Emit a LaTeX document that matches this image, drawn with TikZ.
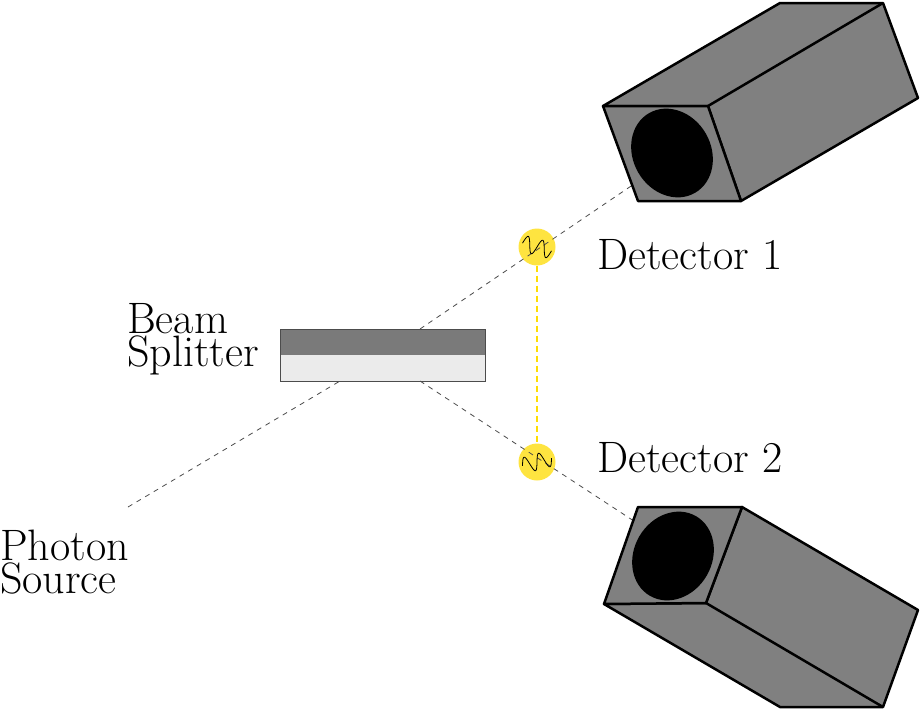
\documentclass[tikz,border=0pt]{standalone}
\begin{document}
\begin{tikzpicture}[x=1pt,y=-1pt,
  box/.style={draw=black,line width=2.5pt,fill=black!50,line join=round},
  beam/.style={dash pattern=on 5pt off 5pt,black!70,line width=0.8pt},
  photon/.style={circle,fill=yellow!80!orange!75!white,minimum size=37pt,inner sep=0},
  lbl/.style={font=\fontsize{44}{33}\selectfont,inner sep=0,align=left}]
\useasboundingbox (0,0) rectangle (921,710);
% beam splitter
\fill[black!52] (280,329) rectangle (485,355);
\fill[black!8] (280,355) rectangle (485,381);
\draw[line width=0.8pt,black!70] (280,329) rectangle (485,381);
\node[photon] (p1) at (537,247) {};
\node[photon] (p2) at (537,462) {};
\coordinate (src) at (128,507);
\coordinate (bs1) at (340,381);
\coordinate (bs2) at (420,329);
\coordinate (bs3) at (420,381);
\coordinate (d1) at (640,180);
\coordinate (d2) at (640,525);
\draw[beam] (src) -- (bs1);
\draw[beam] (bs2) -- (d1);
\draw[beam] (bs3) -- (d2);
\draw[dash pattern=on 6pt off 4pt,yellow!80!orange,line width=1.2pt] (p1) -- (p2);
% waves
\draw[line width=0.8pt,rotate around={-15:(p1)}] plot[domain=-15:15,samples=80,smooth] ({537+\x},{247-8*sin(\x*24)});
\draw[line width=0.8pt,rotate around={15:(p2)}] plot[domain=-15:15,samples=80,smooth] ({537+\x},{462-8*sin(\x*24)});
% detector 1
\draw[box] (603,106) -- (780,3) -- (883,3) -- (918,98) -- (741,201) -- (708,106) -- cycle;
\draw[box] (708,106) -- (883,3);
\draw[box] (603,106) -- (708,106) -- (741,201) -- (638,201) -- cycle;
\fill[black,rotate around={30:(672,153)}] (672,153) ellipse (39pt and 46pt);
% detector 2
\draw[box] (604,604) -- (780,707) -- (883,707) -- (918,610) -- (742,507) -- (706,603) -- cycle;
\draw[box] (706,603) -- (883,707);
\draw[box] (638,507) -- (742,507) -- (706,603) -- (604,604) -- cycle;
\fill[black,rotate around={-30:(673,556)}] (673,556) ellipse (39pt and 46pt);
% labels
\node[lbl,anchor=west] (lbs) at (127,339) {Beam\\Splitter};
\node[lbl,anchor=west] (lps) at (0,562) {Photon\\Source};
\node[lbl,anchor=west] (ld1) at (597,255) {Detector 1};
\node[lbl,anchor=west] (ld2) at (597,458) {Detector 2};
\end{tikzpicture}
\end{document}
